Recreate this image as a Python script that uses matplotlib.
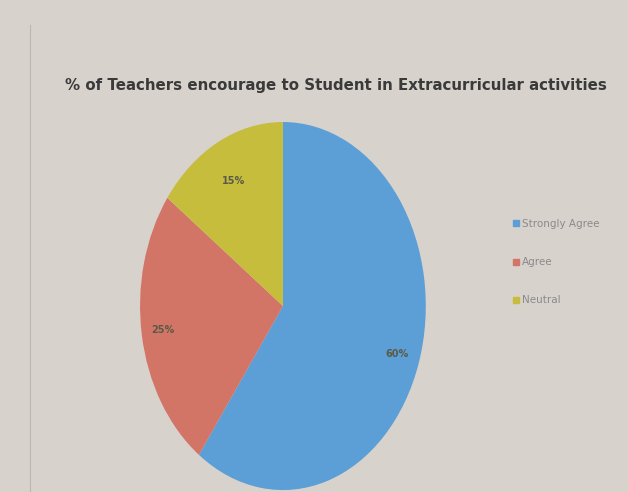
import matplotlib
matplotlib.use("Agg")
import matplotlib.pyplot as plt
from matplotlib.lines import Line2D
import numpy as np

title = "% of Teachers encourage to Student in Extracurricular activities"
categories = ["Strongly Agree", "Agree", "Neutral"]
values = [60, 25, 15]
labels = ["60%", "25%", "15%"]
colors = ["#5b9fd6", "#d27567", "#c7bd3c"]
bg = "#d8d2cd"

fig = plt.figure(figsize=(6.28, 4.92), dpi=100, facecolor=bg)

ax = fig.add_axes([0.223, 0.004, 0.455, 0.748])
ax.set_facecolor(bg)
wedges, _ = ax.pie(values, colors=colors, startangle=90, counterclock=False,
                   radius=1.0, wedgeprops=dict(linewidth=0))
ax.set_aspect("auto")
ax.set_xlim(-1, 1)
ax.set_ylim(-1, 1)
ax.axis("off")

cum = 0
radii = [0.84, 0.85, 0.76]
for v, lab, r in zip(values, labels, radii):
    mid = 90 - (cum + v / 2) * 3.6
    cum += v
    ax.text(r * np.cos(np.radians(mid)), r * np.sin(np.radians(mid)), lab,
            ha="center", va="center", fontsize=7, color="#5a5a48", fontweight="bold")

fig.text(0.535, 0.827, title, ha="center", va="center", fontsize=10.8,
         fontweight="bold", color="#3a3a3a")

handles = [Line2D([], [], marker="s", linestyle="", markersize=4.5,
                  markerfacecolor=c, markeredgecolor=c) for c in colors]
fig.legend(handles, categories, loc="center left", bbox_to_anchor=(0.80, 0.467),
           frameon=False, fontsize=7.5, labelcolor="#8a8a8a", labelspacing=2.7,
           handletextpad=0.2, handlelength=0.8)

fig.add_artist(Line2D([0.048, 0.048], [0.0, 0.95], color="#bdb7b2", linewidth=0.8))

fig.savefig("out.png", dpi=100, facecolor=bg)
